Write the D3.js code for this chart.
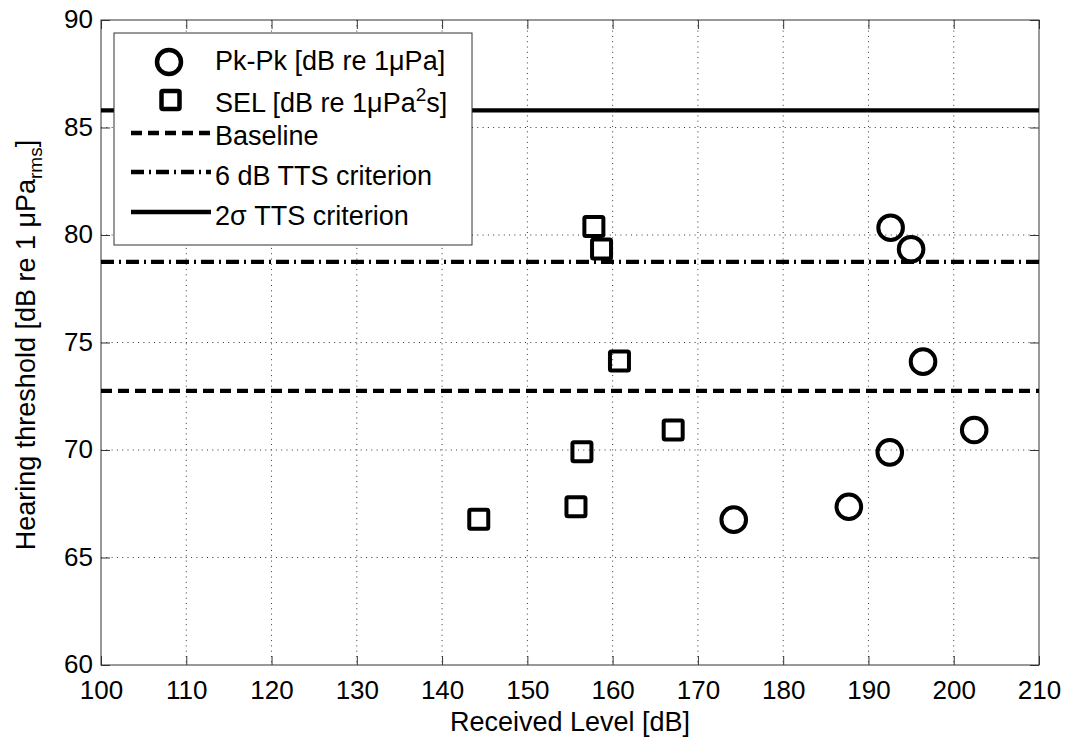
<!DOCTYPE html>
<html><head><meta charset="utf-8">
<script src="https://cdn.jsdelivr.net/npm/d3@7"></script>
<style>body{margin:0;background:#fff}svg{display:block}text{font-family:"Liberation Sans",Arial,sans-serif;fill:#000}</style>
</head><body>
<svg id="c" width="1067" height="738"></svg>
<script>
const pkX = [174.2, 187.7, 192.5, 192.6, 195.0, 196.4, 202.4];
const pkY = [66.76, 67.36, 69.89, 80.34, 79.34, 74.11, 70.93];
const selX = [144.3, 155.7, 156.4, 157.8, 158.7, 160.8, 167.1];
const selY = [66.78, 67.36, 69.92, 80.39, 79.35, 74.14, 70.93];
const baseline = 72.75;
const tts6 = 78.75;
const tts2s = 85.8;
const xTicks = [100,110,120,130,140,150,160,170,180,190,200,210];
const yTicks = [60,65,70,75,80,85,90];

const svg = d3.select("#c");
const L=101,R=1039,T=20,B=665;
const x = d3.scaleLinear().domain([100,210]).range([L,R]);
const y = d3.scaleLinear().domain([60,90]).range([B,T]);

// grid
const g = svg.append("g");
xTicks.slice(1,-1).forEach(t=>g.append("line").attr("x1",x(t)).attr("x2",x(t)).attr("y1",T).attr("y2",B)
  .attr("stroke","#333").attr("stroke-width",1).attr("stroke-dasharray","1,4.3"));
yTicks.slice(1,-1).forEach(t=>g.append("line").attr("y1",y(t)).attr("y2",y(t)).attr("x1",L).attr("x2",R)
  .attr("stroke","#333").attr("stroke-width",1).attr("stroke-dasharray","1,4.3"));

// axes
const tl=9;
svg.append("g").attr("transform",`translate(0,${B})`)
  .call(d3.axisBottom(x).tickValues(xTicks).tickSizeInner(-tl).tickSizeOuter(0))
  .call(a=>{a.select(".domain").remove();a.selectAll("text").attr("font-size",26).attr("y",34).attr("dy",0);a.selectAll("line").attr("stroke","#333");});
svg.append("g").attr("transform",`translate(0,${T})`)
  .call(d3.axisTop(x).tickValues(xTicks).tickSizeInner(-tl).tickSizeOuter(0).tickFormat(""))
  .call(a=>{a.select(".domain").remove();a.selectAll("line").attr("stroke","#333");});
svg.append("g").attr("transform",`translate(${L},0)`)
  .call(d3.axisLeft(y).tickValues(yTicks).tickSizeInner(-tl).tickSizeOuter(0).tickPadding(8))
  .call(a=>{a.select(".domain").remove();a.selectAll("text").attr("font-size",26).attr("dy","0.3em");a.selectAll("line").attr("stroke","#333");});
svg.append("g").attr("transform",`translate(${R},0)`)
  .call(d3.axisRight(y).tickValues(yTicks).tickSizeInner(-tl).tickSizeOuter(0).tickFormat(""))
  .call(a=>{a.select(".domain").remove();a.selectAll("line").attr("stroke","#333");});
svg.append("rect").attr("x",L).attr("y",T).attr("width",R-L).attr("height",B-T)
  .attr("fill","none").attr("stroke","#333").attr("stroke-width",1);

// reference lines
const hl=(v,da)=>svg.append("line").attr("x1",x(100)).attr("x2",x(210)).attr("y1",y(v)).attr("y2",y(v))
  .attr("stroke","#000").attr("stroke-width",4.3).attr("stroke-dasharray",da);
hl(baseline,"11,6");
hl(tts6,"13,5,2,5");
hl(tts2s,null);

// markers
svg.append("g").selectAll("circle").data(pkX).join("circle")
  .attr("cx",d=>x(d)).attr("cy",(d,i)=>y(pkY[i])).attr("r",12.3)
  .attr("fill","none").attr("stroke","#000").attr("stroke-width",4);
const s=19;
svg.append("g").selectAll("rect").data(selX).join("rect")
  .attr("x",d=>x(d)-s/2).attr("y",(d,i)=>y(selY[i])-s/2).attr("width",s).attr("height",s).attr("rx",1.5)
  .attr("fill","none").attr("stroke","#000").attr("stroke-width",4);

// axis labels
svg.append("text").attr("x",(L+R)/2).attr("y",731).attr("text-anchor","middle").attr("font-size",27)
  .text("Received Level [dB]");
const yl = svg.append("text").attr("transform","translate(35,345) rotate(-90)").attr("text-anchor","middle").attr("font-size",27);
yl.append("tspan").text("Hearing threshold [dB re 1 μPa");
yl.append("tspan").attr("font-size",19).attr("dy",7).text("rms");
yl.append("tspan").attr("dy",-7).text("]");

// legend
const lg = svg.append("g");
lg.append("rect").attr("x",114).attr("y",33).attr("width",358).attr("height",212)
  .attr("fill","#fff").attr("stroke","#333").attr("stroke-width",1);
const rows=[62,100,133,172,212];
const bases=[70,112,145,185,225];
const tx=215, fs=27;
lg.append("circle").attr("cx",169).attr("cy",rows[0]).attr("r",12).attr("fill","none").attr("stroke","#000").attr("stroke-width",4.5);
lg.append("rect").attr("x",170.5-9).attr("y",rows[1]-9).attr("width",18).attr("height",18).attr("rx",1.5).attr("fill","none").attr("stroke","#000").attr("stroke-width",4.5);
const ll=(yy,da)=>lg.append("line").attr("x1",131).attr("x2",211).attr("y1",yy).attr("y2",yy).attr("stroke","#000").attr("stroke-width",4.3).attr("stroke-dasharray",da);
ll(rows[2],"11,6"); ll(rows[3],"13,5,2,5"); ll(rows[4],null);
lg.append("text").attr("x",tx).attr("y",bases[0]).attr("font-size",fs).text("Pk-Pk [dB re 1μPa]");
const t2=lg.append("text").attr("x",tx).attr("y",bases[1]).attr("font-size",fs);
t2.append("tspan").text("SEL [dB re 1μPa");
t2.append("tspan").attr("font-size",19).attr("dy",-11).text("2");
t2.append("tspan").attr("dy",11).text("s]");
lg.append("text").attr("x",tx).attr("y",bases[2]).attr("font-size",fs).text("Baseline");
lg.append("text").attr("x",tx).attr("y",bases[3]).attr("font-size",fs).text("6 dB TTS criterion");
lg.append("text").attr("x",tx).attr("y",bases[4]).attr("font-size",fs).text("2σ TTS criterion");
</script>
</body></html>
